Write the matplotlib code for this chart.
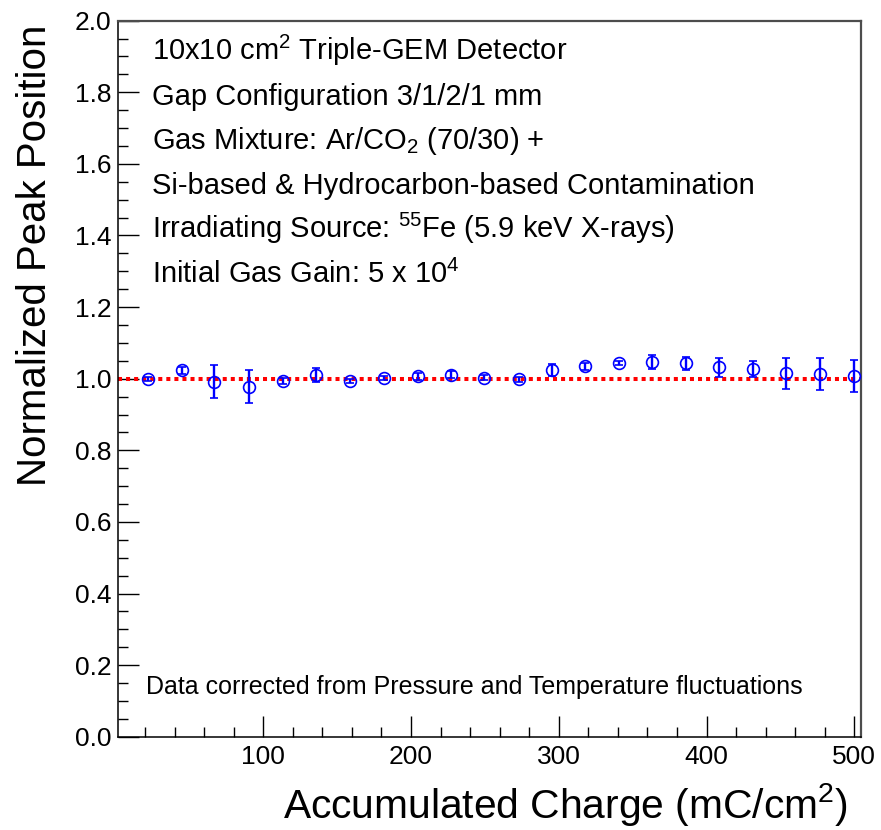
import matplotlib
matplotlib.use("Agg")
import matplotlib.pyplot as plt
from matplotlib.ticker import MultipleLocator

plt.rcParams["font.family"] = ["Liberation Sans", "DejaVu Sans"]
plt.rcParams["mathtext.fontset"] = "custom"
plt.rcParams["mathtext.rm"] = "Liberation Sans"
plt.rcParams["mathtext.it"] = "Liberation Sans:italic"
plt.rcParams["mathtext.bf"] = "Liberation Sans:bold"

# Accumulated charge (mC/cm^2) and normalized peak position with uncertainties
charge = [22.0, 45.0, 66.7, 90.4, 113.4, 135.7, 158.7, 181.7, 204.8, 227.1, 249.5,
          273.2, 295.5, 317.9, 340.9, 363.2, 386.2, 408.6, 431.6, 453.9, 476.9, 499.9]
peak = [1.000, 1.024, 0.992, 0.978, 0.994, 1.011, 0.993, 1.001, 1.007, 1.011, 1.003,
        0.998, 1.025, 1.035, 1.043, 1.047, 1.043, 1.032, 1.027, 1.015, 1.013, 1.008]
peak_err = [0.006, 0.010, 0.045, 0.045, 0.008, 0.020, 0.006, 0.006, 0.010, 0.010, 0.008,
            0.008, 0.017, 0.010, 0.006, 0.019, 0.018, 0.026, 0.023, 0.044, 0.044, 0.045]

reference_level = 1.0

info_lines = [
    r"10x10 cm$^{2}$ Triple-GEM Detector",
    "Gap Configuration 3/1/2/1 mm",
    r"Gas Mixture: Ar/CO$_{2}$ (70/30) +",
    "Si-based & Hydrocarbon-based Contamination",
    r"Irradiating Source: $^{55}$Fe (5.9 keV X-rays)",
    r"Initial Gas Gain: 5 x 10$^{4}$",
]
note = "Data corrected from Pressure and Temperature fluctuations"

W, H = 881, 830
fig = plt.figure(figsize=(W / 100, H / 100), dpi=100)
left, right, top, bottom = 118.3, 861, 20.7, 736.7
ax = fig.add_axes([left / W, 1 - bottom / H, (right - left) / W, (bottom - top) / H])

ax.set_xlim(1.93, 504.5)
ax.set_ylim(0.0, 2.0)

# Reference line at unity
ax.axhline(reference_level, color="#ff0000", lw=2.9, ls=(0, (1, 1)), zorder=2)

ax.errorbar(charge, peak, yerr=peak_err, fmt="o", mfc="none", mec="#0000ff",
            mew=1.2, ms=8.5, ecolor="#0000ff", elinewidth=1.7, capsize=3,
            capthick=1.7, zorder=3)

ax.xaxis.set_major_locator(MultipleLocator(100))
ax.xaxis.set_minor_locator(MultipleLocator(20))
ax.yaxis.set_major_locator(MultipleLocator(0.2))
ax.yaxis.set_minor_locator(MultipleLocator(0.05))
ax.yaxis.set_major_formatter(plt.FuncFormatter(lambda v, p: f"{v:.1f}"))
ax.xaxis.set_major_formatter(plt.FuncFormatter(lambda v, p: f"{v:.0f}" if v > 50 else ""))

ax.tick_params(axis="both", which="both", direction="in", top=False, right=False,
               color="black")
ax.tick_params(axis="both", which="major", length=15, width=1.0, labelsize=19)
ax.tick_params(axis="both", which="minor", length=7.5, width=1.0)
ax.tick_params(axis="y", which="major", pad=5)
ax.tick_params(axis="x", which="major", pad=6)

for side in ("left", "bottom"):
    ax.spines[side].set_color("black")
    ax.spines[side].set_linewidth(1.1)
for side in ("top", "right"):
    ax.spines[side].set_color("#4d4d4d")
    ax.spines[side].set_linewidth(1.6)


def px(x, y):
    return x / W, 1 - y / H


for i, line in enumerate(info_lines):
    fig.text(*px(152, 60 + 44.6 * i), line, fontsize=21, ha="left", va="baseline")

fig.text(*px(146, 694), note, fontsize=18, ha="left", va="baseline")

fig.text(*px(848, 818), r"Accumulated Charge (mC/cm$^{2}$)", fontsize=29.3,
         ha="right", va="baseline")
fig.text(*px(46, 25), "Normalized Peak Position", fontsize=29,
         rotation=90, ha="right", va="baseline", rotation_mode="anchor")

fig.savefig("out.png", dpi=100)
